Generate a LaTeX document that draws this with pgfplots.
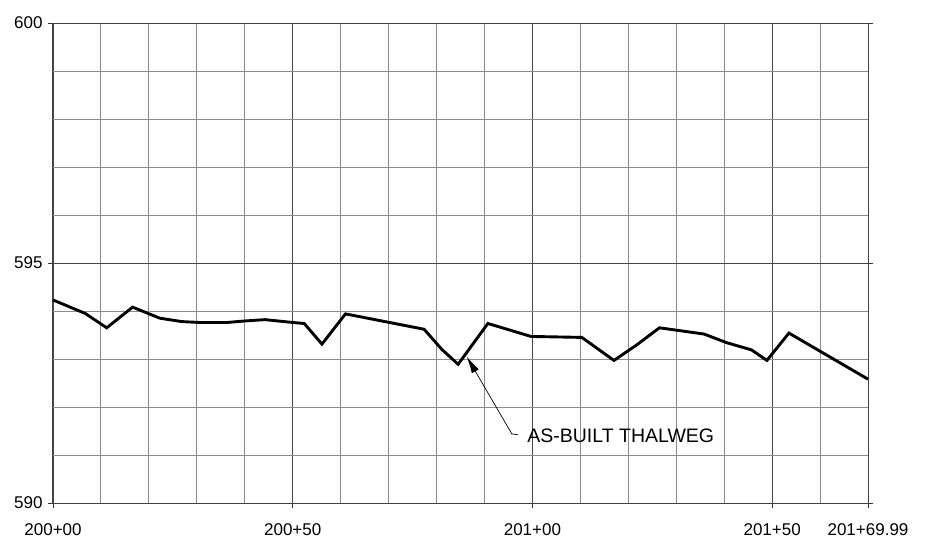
\documentclass[border=0pt]{standalone}
\usepackage{pgfplots}
\pgfplotsset{compat=1.18}
\usepackage{fontspec}
\setmainfont{Liberation Sans}
\usetikzlibrary{arrows.meta}

\pgfplotstableread{
x y
0 594.23
6.7 593.95
11.2 593.65
16.6 594.08
22.3 593.85
26.8 593.78
30.7 593.76
36.2 593.76
39.7 593.79
44.2 593.82
50.1 593.76
52.4 593.74
56.1 593.31
61.0 593.94
77.4 593.62
81.1 593.20
84.5 592.89
90.7 593.74
99.7 593.47
110.3 593.45
117.0 592.97
121.7 593.29
126.5 593.65
135.8 593.52
140.5 593.34
145.7 593.19
148.9 592.97
153.5 593.54
169.99 592.58
}\thalweg

\begin{document}
\begin{tikzpicture}[x=1pt,y=1pt]
\path[use as bounding box] (-53,-47) rectangle (877,503);
\begin{axis}[
  at={(0,0)}, anchor=south west,
  scale only axis, width=815pt, height=480pt,
  xmin=0, xmax=169.99, ymin=590, ymax=600,
  xtick={0,50,100,150,169.99},
  xticklabels={200+00,200+50,201+00,201+50,201+69.99},
  minor xtick={10,20,30,40,60,70,80,90,110,120,130,140,160},
  ytick={590,595,600},
  minor ytick={591,592,593,594,596,597,598,599},
  grid=both,
  minor grid style={black!45, line width=0.9pt},
  major grid style={black!72, line width=0.9pt},
  axis line style={black!75, line width=1pt},
  tick style={black!80, line width=0.9pt},
  major tick length=5pt, minor tick length=0pt,
  tick align=outside,
  xtick pos=bottom, ytick pos=both,
  yticklabel pos=left,
  /pgf/number format/assume math mode=true,
  yticklabel={\pgfmathprintnumber[fixed,precision=0]{\tick}},
  tick label style={font=\fontsize{17}{19}\selectfont, black},
  xticklabel style={yshift=-12pt},
  yticklabel style={xshift=-2pt},
  clip=false,
]
\addplot[black, line width=2.9pt, line join=miter] table[x=x,y=y] {\thalweg};
\draw[line width=0.7pt, -{Latex[length=17pt,width=8pt]}] (axis cs:97.0,591.42) -- (axis cs:95.7,591.44) -- (axis cs:86.3,593.05);
\node[anchor=west, inner sep=0pt, font=\fontsize{19.5}{21}\selectfont] at (axis cs:98.9,591.40) {AS-BUILT THALWEG};
\end{axis}
\begin{axis}[
  at={(0,0)}, anchor=south west,
  scale only axis, width=815pt, height=480pt,
  xmin=0, xmax=169.99, ymin=590, ymax=600,
  axis lines=none,
  xtick=\empty,
  ytick={590,595,600},
  yticklabel pos=right,
  major tick length=0pt,
  /pgf/number format/assume math mode=true,
  yticklabel={\pgfmathprintnumber[fixed,precision=0]{\tick}},
  tick label style={font=\fontsize{17}{19}\selectfont, black},
  yticklabel style={xshift=10pt},
]
\addplot[draw=none] coordinates {(0,590)};
\end{axis}
\end{tikzpicture}
\end{document}
